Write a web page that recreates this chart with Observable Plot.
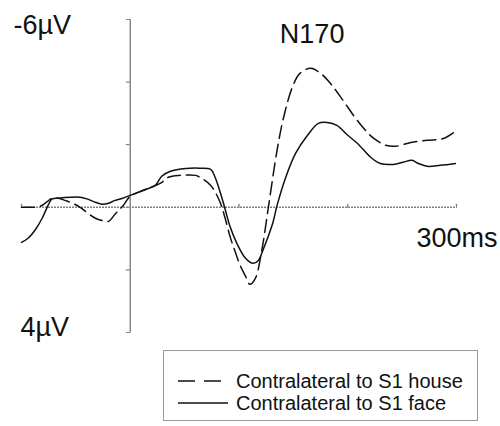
<!DOCTYPE html>
<html>
<head>
<meta charset="utf-8">
<script src="https://cdn.jsdelivr.net/npm/d3@7"></script>
<script src="https://cdn.jsdelivr.net/npm/@observablehq/plot@0.6"></script>
<style>
  html, body { margin: 0; padding: 0; background: #fff; }
  #wrap { position: relative; width: 500px; height: 426px; font-family: "Liberation Sans", Arial, sans-serif; }
  #legend { position: absolute; left: 163px; top: 350px; width: 315px; height: 71px; border: 1px solid #9a9a9a; box-sizing: border-box; background: #fff; }
  .row { position: absolute; left: 14px; height: 22px; display: flex; align-items: center; font-size: 20px; color: #111; white-space: nowrap; }
  .row svg { margin-right: 8px; }
</style>
</head>
<body>
<div id="wrap">
  <div id="chart"></div>
  <div id="legend"></div>
</div>
<script>
// ---- data ----
const seriesNames = ["Contralateral to S1 house", "Contralateral to S1 face"];

const houseTime = [-100,-92,-83,-76,-72,-66,-60,-53,-46,-39,-32,-26,-20,-14,-7,0,14,28,35,46,60,64,74,83,87,92,97,101,106,110,115,121,127,135,141,149,156,166,175,184,195,205,214,224,235,244,258,273,288,299];
const houseValue = [0,0,-0.03,-0.19,-0.29,-0.29,-0.22,-0.13,0,0.19,0.35,0.42,0.45,0.22,-0.03,-0.35,-0.57,-0.77,-0.96,-1.02,-1.02,-0.96,-0.70,-0.13,0.32,0.96,1.47,1.85,2.2,2.46,2.27,1.37,0,-1.82,-2.87,-3.83,-4.28,-4.44,-4.28,-3.96,-3.45,-2.95,-2.55,-2.20,-1.98,-1.95,-2.07,-2.14,-2.20,-2.43];

const faceTime = [-100,-94,-87,-81,-75,-72,-66,-55,-46,-39,-32,-26,-20,-14,-7,0,14,23,29,37,51,64,74,78,83,87,92,98,106,113,118,122,131,135,143,152,163,173,181,190,200,209,221,230,242,251,259,265,273,285,299];
const faceValue = [1.12,0.99,0.70,0.35,-0.10,-0.26,-0.29,-0.32,-0.32,-0.26,-0.16,-0.10,-0.13,-0.22,-0.29,-0.38,-0.57,-0.70,-0.99,-1.15,-1.24,-1.25,-1.21,-0.96,-0.45,0.03,0.64,1.15,1.63,1.79,1.69,1.37,0.51,-0.06,-0.96,-1.72,-2.30,-2.68,-2.71,-2.62,-2.30,-2.04,-1.60,-1.40,-1.37,-1.44,-1.50,-1.40,-1.31,-1.34,-1.40];

const yTicks = [-6, -4, -2, 0, 2, 4];
const xTicks = [-100, 100, 200, 300];
const yLabelTop = "-6µV";
const yLabelBottom = "4µV";
const xLabel = "300ms";
const peakLabel = "N170";
const peakTime = 170;

// ---- build ----
const house = houseTime.map((t, i) => ({t, v: houseValue[i]}));
const face = faceTime.map((t, i) => ({t, v: faceValue[i]}));

const tickShape = { draw(context, l) { context.moveTo(0, 0); context.lineTo(0, -l); } };
const dash = "13,6";
const font = "Liberation Sans, Arial, sans-serif";

const chart = Plot.plot({
  width: 500,
  height: 348,
  marginLeft: 21,
  marginRight: 44,
  marginTop: 19,
  marginBottom: 16,
  x: {domain: [-100, 300], axis: null},
  y: {domain: [-6, 4], reverse: true, axis: null},
  style: {background: "#fff", fontFamily: font},
  marks: [
    Plot.ruleY([0], {stroke: "#808080", strokeWidth: 1.5, strokeDasharray: "2,1"}),
    Plot.vector(xTicks, {x: d => d, y: 0, length: 3, anchor: "start", shape: tickShape, stroke: "#808080", strokeWidth: 1.2}),
    Plot.ruleX([0], {stroke: "#8a8a8a", strokeWidth: 1.5}),
    Plot.vector(yTicks, {x: 0, y: d => d, length: 4, rotate: -90, anchor: "start", shape: tickShape, stroke: "#8a8a8a", strokeWidth: 1.2}),
    Plot.line(house, {x: "t", y: "v", stroke: "#111", strokeWidth: 1.5, strokeDasharray: dash, curve: "catmull-rom"}),
    Plot.line(face, {x: "t", y: "v", stroke: "#111", strokeWidth: 1.5, curve: "catmull-rom"}),
    Plot.text([yLabelTop], {x: -100, y: yTicks[0], text: d => d, textAnchor: "start", dx: -8, dy: 6, fontSize: 27, fill: "#111"}),
    Plot.text([yLabelBottom], {x: -100, y: yTicks[yTicks.length - 1], text: d => d, textAnchor: "start", dx: -1, dy: -5, fontSize: 27, fill: "#111"}),
    Plot.text([xLabel], {x: xTicks[xTicks.length - 1], y: 0, text: d => d, textAnchor: "end", dx: 41, dy: 31, fontSize: 27, fill: "#111"}),
    Plot.text([peakLabel], {x: peakTime, y: yTicks[0], text: d => d, textAnchor: "middle", dx: -3, dy: 15, fontSize: 27, fill: "#111"})
  ]
});
document.getElementById("chart").appendChild(chart);

// ---- legend ----
const legend = document.getElementById("legend");
seriesNames.forEach((name, i) => {
  const row = document.createElement("div");
  row.className = "row";
  row.style.top = (19 + i * 22) + "px";
  const ns = "http://www.w3.org/2000/svg";
  const svg = document.createElementNS(ns, "svg");
  svg.setAttribute("width", 50);
  svg.setAttribute("height", 10);
  const ln = document.createElementNS(ns, "line");
  ln.setAttribute("x1", 0); ln.setAttribute("x2", 50);
  ln.setAttribute("y1", 5); ln.setAttribute("y2", 5);
  ln.setAttribute("stroke", "#111");
  ln.setAttribute("stroke-width", 1.5);
  if (i === 0) ln.setAttribute("stroke-dasharray", "17,9");
  svg.appendChild(ln);
  row.appendChild(svg);
  const span = document.createElement("span");
  span.textContent = name;
  row.appendChild(span);
  legend.appendChild(row);
});
</script>
</body>
</html>
